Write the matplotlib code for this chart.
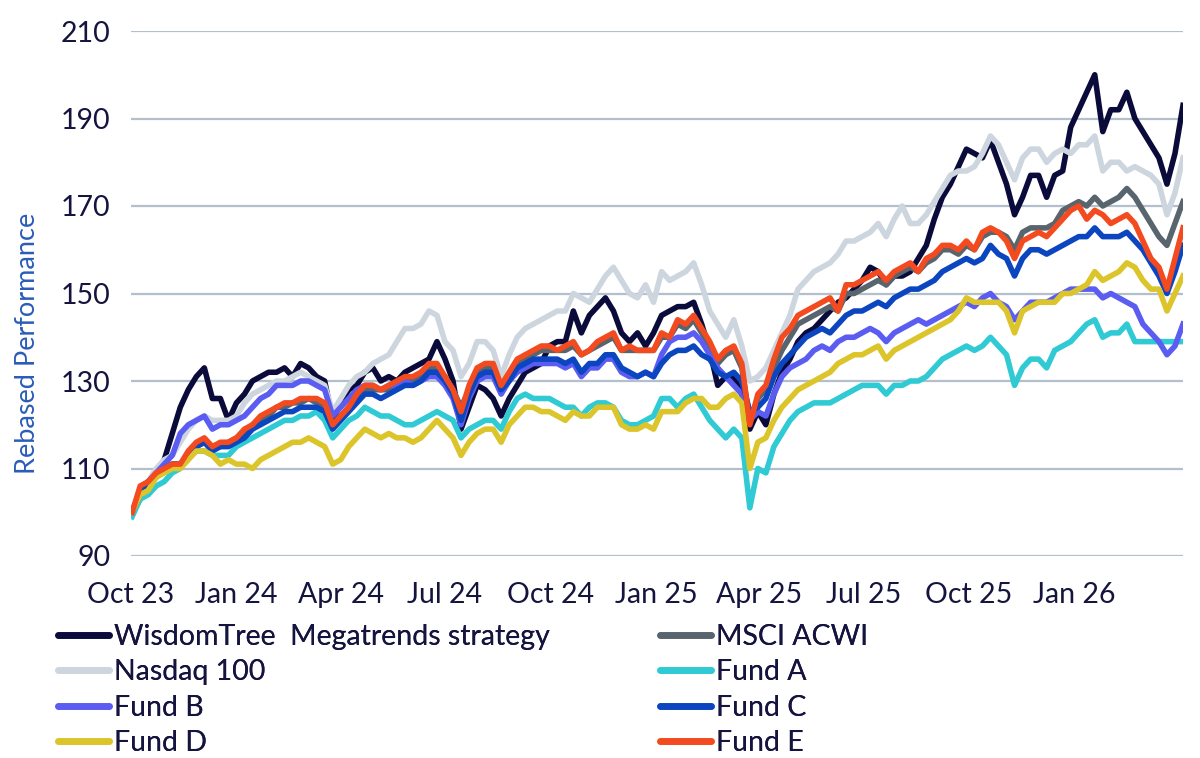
import pandas as pd
import matplotlib.pyplot as plt
import matplotlib.dates as mdates

plt.rcParams['font.family'] = ['Lato', 'DejaVu Sans']

# weekly observations, first one on 2 Oct 2023
dates = pd.date_range('2023-10-02', periods=132, freq='7D')
tick_dates = pd.date_range('2023-10-01', '2026-01-01', freq='3MS')

wisdomtree = [100, 103, 106, 109, 112, 118, 124, 128, 131, 133, 126, 126, 121, 125, 127, 130, 131, 132, 132, 133,
              131, 134, 133, 131, 130, 121, 125, 128, 129, 132, 133, 130, 131, 130, 132,
              133, 134, 135, 139, 135, 130, 119, 124, 129, 128, 126, 122, 126, 129, 132, 133, 134, 138, 139, 139,
              146, 141, 145, 147, 149, 146, 141, 139, 141, 138, 141, 145, 146,
              147, 147, 148, 143, 137, 129, 131, 131, 127, 119, 123, 120, 127, 132, 135, 139, 141, 142, 144, 146,
              148, 149, 151, 153, 156, 155, 152, 154, 154, 155, 158, 161,
              167, 172, 175, 179, 183, 182, 181, 185, 180, 175, 168, 172, 177, 177, 172, 177, 178, 188, 192, 196,
              200, 187, 192, 192, 196, 190, 187, 184, 181, 175, 182, 193]
msci_acwi = [100, 105, 107, 108, 110, 111, 111, 113, 115, 116, 115, 115, 116, 117, 118, 120, 121, 122, 124, 124,
             125, 125, 126, 125, 124, 120, 122, 124, 126, 128, 128, 128, 128, 129, 130,
             130, 131, 133, 133, 131, 128, 124, 128, 132, 133, 133, 129, 131, 134, 135, 136, 137, 137, 137, 137,
             138, 136, 137, 138, 139, 140, 137, 137, 137, 137, 137, 140, 140,
             143, 142, 144, 141, 138, 134, 136, 137, 133, 121, 126, 128, 133, 137, 140, 143, 144, 145, 146, 147,
             146, 150, 150, 151, 152, 153, 152, 154, 155, 156, 155, 157,
             158, 160, 160, 159, 161, 160, 163, 164, 164, 163, 160, 164, 165, 165, 165, 166, 169, 170, 171, 170,
             172, 170, 171, 172, 174, 172, 169, 166, 163, 161, 166, 171]
nasdaq = [100, 104, 107, 110, 112, 113, 116, 119, 121, 122, 121, 121, 121, 122, 125, 127, 128, 129, 130, 130,
          131, 132, 131, 130, 129, 123, 126, 129, 131, 132, 134, 135, 136, 139, 142,
          142, 143, 146, 145, 139, 137, 131, 134, 139, 139, 137, 131, 136, 140, 142, 143, 144, 145, 146, 146,
          150, 149, 148, 151, 154, 156, 153, 150, 149, 152, 148, 155, 153,
          154, 155, 157, 152, 146, 143, 140, 144, 138, 130, 131, 133, 137, 141, 145, 151, 153, 155, 156, 157,
          159, 162, 162, 163, 164, 166, 163, 167, 170, 166, 166, 168,
          171, 174, 177, 178, 178, 179, 182, 186, 184, 180, 176, 181, 183, 183, 180, 182, 183, 182, 184, 184,
          186, 178, 180, 180, 178, 179, 178, 177, 175, 168, 173, 181]
fund_a = [99, 103, 104, 106, 107, 109, 110, 113, 114, 114, 113, 113, 113, 115, 116, 117, 118, 119, 120, 121,
          121, 122, 122, 123, 121, 117, 119, 121, 122, 124, 123, 122, 122, 121, 120,
          120, 121, 122, 123, 122, 121, 117, 119, 120, 121, 121, 119, 123, 126, 127, 126, 126, 126, 125, 124,
          124, 122, 124, 125, 125, 124, 121, 120, 120, 121, 122, 126, 126,
          124, 126, 127, 124, 121, 119, 117, 119, 117, 101, 110, 109, 115, 118, 121, 123, 124, 125, 125, 125,
          126, 127, 128, 129, 129, 129, 127, 129, 129, 130, 130, 131,
          133, 135, 136, 137, 138, 137, 138, 140, 138, 136, 129, 133, 135, 135, 133, 137, 138, 139, 141, 143,
          144, 140, 141, 141, 143, 139, 139, 139, 139, 139, 139, 139]
fund_b = [100, 104, 107, 109, 111, 113, 118, 120, 121, 122, 119, 120, 120, 121, 122, 124, 126, 127, 129, 129,
          129, 130, 130, 129, 128, 122, 124, 126, 128, 129, 129, 128, 129, 129, 130,
          129, 130, 131, 131, 129, 126, 120, 126, 130, 131, 131, 127, 130, 132, 133, 134, 134, 134, 134, 133,
          134, 131, 133, 133, 135, 135, 132, 131, 131, 132, 131, 136, 139,
          140, 140, 141, 139, 136, 133, 131, 129, 127, 121, 123, 122, 127, 131, 133, 134, 135, 137, 138, 137,
          139, 140, 140, 141, 142, 141, 139, 141, 142, 143, 144, 143,
          144, 145, 146, 147, 148, 147, 149, 150, 148, 147, 144, 146, 148, 148, 148, 149, 150, 151, 151, 151,
          151, 149, 150, 149, 148, 147, 143, 141, 139, 136, 138, 143]
fund_c = [100, 105, 106, 108, 110, 111, 111, 113, 115, 116, 114, 115, 115, 116, 117, 119, 120, 121, 122, 123,
          123, 124, 124, 124, 123, 119, 121, 123, 125, 127, 127, 126, 127, 128, 129,
          129, 130, 132, 132, 130, 127, 121, 127, 131, 132, 132, 128, 130, 133, 134, 135, 135, 135, 135, 134,
          135, 132, 134, 134, 136, 136, 133, 132, 131, 132, 131, 134, 136,
          137, 137, 138, 136, 135, 132, 131, 132, 130, 123, 124, 126, 131, 134, 136, 138, 140, 141, 142, 141,
          143, 145, 146, 146, 147, 148, 147, 149, 150, 151, 151, 152,
          153, 155, 156, 157, 158, 157, 158, 161, 159, 158, 154, 158, 160, 160, 159, 160, 161, 162, 163, 163,
          165, 163, 163, 163, 164, 162, 160, 157, 154, 150, 155, 161]
fund_d = [100, 104, 105, 108, 109, 110, 110, 112, 114, 114, 113, 111, 112, 111, 111, 110, 112, 113, 114, 115,
          116, 116, 117, 116, 115, 111, 112, 115, 117, 119, 118, 117, 118, 117, 117,
          116, 117, 119, 121, 119, 117, 113, 116, 118, 119, 119, 116, 120, 122, 124, 124, 123, 123, 122, 121,
          123, 122, 122, 124, 124, 124, 120, 119, 119, 120, 119, 123, 123,
          123, 125, 126, 126, 124, 124, 126, 127, 125, 110, 116, 117, 121, 124, 126, 128, 129, 130, 131, 132,
          134, 135, 136, 136, 137, 138, 135, 137, 138, 139, 140, 141,
          142, 143, 144, 146, 149, 148, 148, 148, 148, 146, 141, 146, 147, 148, 148, 148, 150, 150, 151, 152,
          155, 153, 154, 155, 157, 156, 153, 151, 151, 146, 150, 154]
fund_e = [100, 106, 107, 109, 110, 111, 111, 114, 116, 117, 115, 116, 116, 117, 119, 120, 122, 123, 124, 125,
          125, 126, 126, 126, 125, 120, 122, 124, 127, 129, 129, 128, 129, 130, 131,
          131, 132, 134, 134, 131, 128, 123, 129, 133, 134, 134, 129, 132, 135, 136, 137, 138, 138, 137, 138,
          139, 136, 137, 139, 140, 141, 137, 138, 137, 137, 137, 141, 140,
          144, 143, 145, 142, 139, 135, 137, 138, 134, 120, 127, 129, 135, 140, 142, 145, 146, 147, 148, 149,
          146, 152, 152, 153, 154, 155, 153, 155, 156, 157, 155, 158,
          159, 161, 161, 160, 162, 160, 164, 165, 164, 162, 158, 162, 163, 164, 163, 165, 167, 169, 170, 167,
          169, 168, 166, 167, 168, 166, 162, 158, 156, 151, 158, 165]

series = [
    ('WisdomTree  Megatrends strategy', wisdomtree, '#0b0b3b'),
    ('MSCI ACWI', msci_acwi, '#59656e'),
    ('Nasdaq 100', nasdaq, '#cdd6df'),
    ('Fund A', fund_a, '#2fcad3'),
    ('Fund B', fund_b, '#5b5df2'),
    ('Fund C', fund_c, '#0b45c0'),
    ('Fund D', fund_d, '#dcc52a'),
    ('Fund E', fund_e, '#f34a1f'),
]

text_col = '#14143f'

fig = plt.figure(figsize=(12, 7.58), dpi=100)
ax = fig.add_axes([131 / 1200, 1 - 556 / 758, (1183 - 131) / 1200, (556 - 31) / 758])

lines = {}
for name, vals, col in series:
    ln, = ax.plot(dates, vals, color=col, lw=4, solid_joinstyle='round')
    lines[name] = ln

ax.set_ylim(90, 210)
ax.set_yticks(range(90, 211, 20))
ax.set_xlim(pd.Timestamp('2023-10-01'), dates[-1])
ax.set_xticks(tick_dates)
ax.xaxis.set_major_formatter(mdates.DateFormatter('%b %y'))

ax.grid(axis='y', color='#b3bfcc', lw=1.6)
ax.set_axisbelow(True)
for sp in ax.spines.values():
    sp.set_visible(False)
ax.tick_params(axis='both', length=0, labelsize=20.5, colors=text_col)
ax.tick_params(axis='y', pad=15)
ax.tick_params(axis='x', pad=19)

fig.text(28 / 1200, 1 - 343 / 758, 'Rebased Performance', rotation=90,
         ha='center', va='center', fontsize=19.5, color='#2a5cb8')

# legend in two columns, same order as the reference
left_names = ['WisdomTree  Megatrends strategy', 'Nasdaq 100', 'Fund B', 'Fund D']
right_names = ['MSCI ACWI', 'Fund A', 'Fund C', 'Fund E']
for names, x0 in [(left_names, 58), (right_names, 660)]:
    leg = fig.legend([lines[n] for n in names], names, loc='upper left',
                     bbox_to_anchor=(x0 / 1200, 1 - 624 / 758), frameon=False,
                     fontsize=20.5, handlelength=1.8, handletextpad=0.15,
                     labelspacing=0.33, borderpad=0, borderaxespad=0)
    for t in leg.get_texts():
        t.set_color(text_col)
    for h in leg.get_lines():
        h.set_linewidth(4.8)
        h.set_solid_capstyle('round')
    fig.add_artist(leg)

fig.savefig('out.png', dpi=100)
